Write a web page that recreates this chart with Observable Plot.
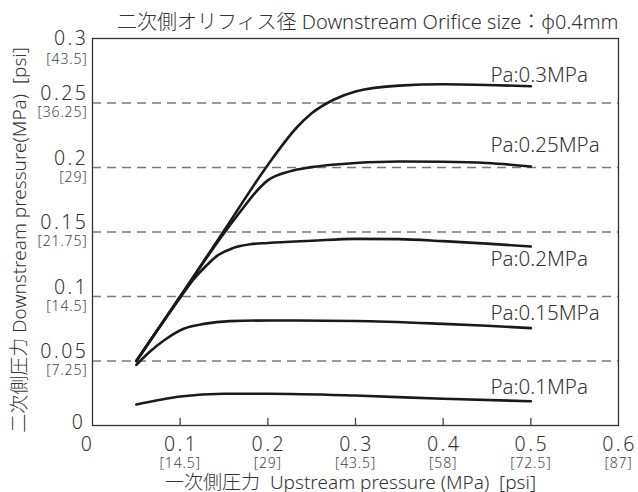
<!DOCTYPE html>
<html><head><meta charset="utf-8">
<script src="https://cdn.jsdelivr.net/npm/d3@7"></script>
<script src="https://cdn.jsdelivr.net/npm/@observablehq/plot@0.6"></script>
<style>
html,body{margin:0;padding:0;background:#fff;}
</style>
</head><body><div id="chart"></div>
<script>
// ---- data (MPa) ----
const title = "二次側オリフィス径 Downstream Orifice size：φ0.4mm";
const xTitle = "一次側圧力  Upstream pressure (MPa)  [psi]";
const yTitle = "二次側圧力 Downstream pressure(MPa)  [psi]";

const xTicks = [0, 0.1, 0.2, 0.3, 0.4, 0.5, 0.6];
const xTickLabels = ["0", "0.1", "0.2", "0.3", "0.4", "0.5", "0.6"];
const xPsiLabels = ["", "[14.5]", "[29]", "[43.5]", "[58]", "[72.5]", "[87]"];
const xMinorTicks = [0.1, 0.2, 0.3, 0.4, 0.5];

const yTicks = [0, 0.05, 0.1, 0.15, 0.2, 0.25, 0.3];
const yTickLabels = ["0", "0.05", "0.1", "0.15", "0.2", "0.25", "0.3"];
const yPsiLabels = ["", "[7.25]", "[14.5]", "[21.75]", "[29]", "[36.25]", "[43.5]"];
const gridY = [0.05, 0.1, 0.15, 0.2, 0.25];

const seriesNames = ["Pa:0.3MPa", "Pa:0.25MPa", "Pa:0.2MPa", "Pa:0.15MPa", "Pa:0.1MPa"];

const x03 = [0.05, 0.10, 0.15, 0.20, 0.233, 0.25, 0.275, 0.30, 0.35, 0.40, 0.45, 0.50];
const y03 = [0.050, 0.100, 0.151, 0.202, 0.231, 0.242, 0.2525, 0.259, 0.2635, 0.2645, 0.264, 0.263];

const x025 = [0.05, 0.10, 0.15, 0.17, 0.185, 0.20, 0.225, 0.25, 0.30, 0.35, 0.40, 0.45, 0.50];
const y025 = [0.050, 0.100, 0.149, 0.167, 0.180, 0.190, 0.197, 0.2003, 0.2035, 0.2047, 0.2045, 0.2035, 0.2008];

const x02 = [0.05, 0.10, 0.115, 0.13, 0.142, 0.16, 0.18, 0.20, 0.25, 0.30, 0.35, 0.40, 0.45, 0.50];
const y02 = [0.050, 0.099, 0.113, 0.124, 0.1315, 0.1375, 0.1405, 0.1415, 0.1432, 0.1447, 0.1445, 0.1429, 0.141, 0.1388];

const x015 = [0.05, 0.065, 0.0814, 0.104, 0.127, 0.157, 0.20, 0.30, 0.40, 0.45, 0.50];
const y015 = [0.047, 0.057, 0.0659, 0.075, 0.0788, 0.0809, 0.0814, 0.081, 0.0788, 0.0773, 0.0755];

const x01 = [0.05, 0.10, 0.15, 0.20, 0.30, 0.40, 0.50];
const y01 = [0.0163, 0.0225, 0.0246, 0.0246, 0.0232, 0.0207, 0.0188];

// label anchor (left edge x, centre y), in MPa
const labelX = [0.454, 0.454, 0.454, 0.454, 0.454];
const labelY = [0.2713, 0.2174, 0.1288, 0.0870, 0.0295];

// ---- build table ----
const xs = [x03, x025, x02, x015, x01];
const ys = [y03, y025, y02, y015, y01];
const rows = [];
seriesNames.forEach((s, i) => xs[i].forEach((x, j) => rows.push({s, x, y: ys[i][j]})));
const labels = seriesNames.map((s, i) => ({s, x: labelX[i], y: labelY[i]}));

const FONT = "'Noto Sans', 'Noto Sans CJK JP', sans-serif";
const tickShape = {draw(ctx, l) { ctx.moveTo(0, 0); ctx.lineTo(0, -l); }};
const xl = (d) => xTickLabels[xTicks.indexOf(d)];
const xp = (d) => xPsiLabels[xTicks.indexOf(d)];
const yl = (d) => yTickLabels[yTicks.indexOf(d)];
const yp = (d) => yPsiLabels[yTicks.indexOf(d)];

const chart = Plot.plot({
  width: 638, height: 492,
  marginLeft: 92, marginRight: 20, marginTop: 38, marginBottom: 67,
  x: {domain: [0, 0.6], axis: null},
  y: {domain: [0, 0.3], axis: null},
  style: {fontFamily: FONT, color: "#333", background: "#fff", overflow: "visible", whiteSpace: "pre"},
  marks: [
    Plot.ruleY(gridY, {stroke: "#7a7a7a", strokeWidth: 1.4, strokeDasharray: "9,6"}),
    Plot.frame({stroke: "#333", strokeWidth: 1.3}),
    Plot.vector(xMinorTicks, {x: d => d, y: 0, length: 7, anchor: "start", rotate: 0, shape: tickShape, stroke: "#444", strokeWidth: 1.3}),
    Plot.line(rows, {x: "x", y: "y", z: "s", curve: "monotone-x", stroke: "#1a1a1a", strokeWidth: 2.6}),
    // x tick labels
    Plot.text(xTicks, {filter: d => d > 0, x: d => d, text: xl, frameAnchor: "bottom", lineAnchor: "middle", dy: 19, dx: 1, fontSize: 19.5, fontWeight: 300, fill: "#333", className: "num"}),
    Plot.text(xTicks, {filter: d => d === 0, x: d => d, text: xl, frameAnchor: "bottom", lineAnchor: "middle", dy: 19, dx: -5, fontSize: 19.5, fontWeight: 300, fill: "#333", className: "num"}),
    Plot.text(xTicks, {filter: d => d > 0, x: d => d, text: xp, frameAnchor: "bottom", lineAnchor: "middle", dy: 38, fontSize: 14, fontWeight: 300, fill: "#444", className: "psi"}),
    // y tick labels
    Plot.text(yTicks, {filter: d => d > 0 && d < 0.3, y: d => d, text: yl, frameAnchor: "left", textAnchor: "end", lineAnchor: "middle", dx: -4, dy: -9, fontSize: 19.5, fontWeight: 300, fill: "#333", className: "num"}),
    Plot.text(yTicks, {filter: d => d > 0 && d < 0.3, y: d => d, text: yp, frameAnchor: "left", textAnchor: "end", lineAnchor: "middle", dx: -5, dy: 10, fontSize: 14, fontWeight: 300, fill: "#444", className: "psi"}),
    Plot.text(yTicks, {filter: d => d === 0.3, y: d => d, text: yl, frameAnchor: "left", textAnchor: "end", lineAnchor: "middle", dx: -4, dy: 0, fontSize: 19.5, fontWeight: 300, fill: "#333", className: "num"}),
    Plot.text(yTicks, {filter: d => d === 0.3, y: d => d, text: yp, frameAnchor: "left", textAnchor: "end", lineAnchor: "middle", dx: -5, dy: 21, fontSize: 14, fontWeight: 300, fill: "#444", className: "psi"}),
    Plot.text(yTicks, {filter: d => d === 0, y: d => d, text: yl, frameAnchor: "left", textAnchor: "end", lineAnchor: "middle", dx: -7, dy: -3, fontSize: 19.5, fontWeight: 300, fill: "#333", className: "num"}),
    // series labels
    Plot.text(labels, {x: "x", y: "y", text: "s", textAnchor: "start", lineAnchor: "middle", fontSize: 20.5, fontWeight: 300, fill: "#333"}),
    // titles
    Plot.text([title], {text: d => d, frameAnchor: "top-right", textAnchor: "end", lineAnchor: "middle", dy: -16, fontSize: 20, fontWeight: 300, fill: "#333"}),
    Plot.text([xTitle], {text: d => d, frameAnchor: "bottom", textAnchor: "middle", lineAnchor: "middle", dx: -5, dy: 57, fontSize: 19, fontWeight: 300, fill: "#333"}),
    Plot.text([yTitle], {text: d => d, frameAnchor: "left", rotate: -90, textAnchor: "middle", lineAnchor: "middle", dx: -73, dy: 8, fontSize: 19, fontWeight: 300, fill: "#333"})
  ]
});
// extra tracking on the numeric tick labels, as in the reference typeface
d3.select(chart).selectAll(".num text").style("letter-spacing", "2.5px");
d3.select(chart).selectAll(".psi text").style("letter-spacing", "0.8px");
document.getElementById("chart").appendChild(chart);
</script>
</body></html>
